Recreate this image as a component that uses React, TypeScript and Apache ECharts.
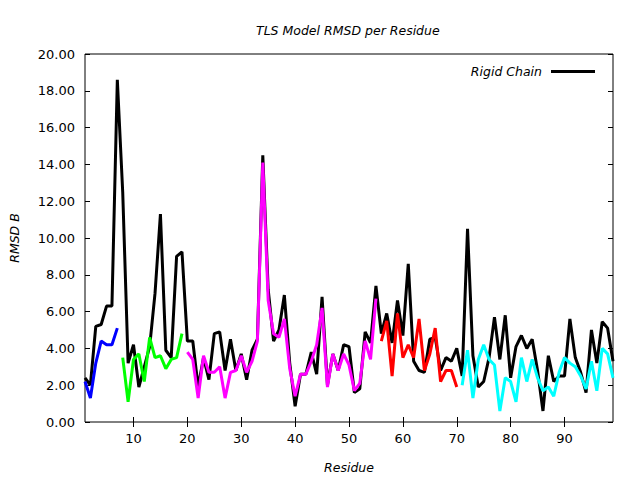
import React, { useEffect, useRef } from "react";
import * as echarts from "echarts";

const titleText = "TLS Model RMSD per Residue";
const xName = "Residue";
const yName = "RMSD B";
const legendName = "Rigid Chain";

const xTicks = [10, 20, 30, 40, 50, 60, 70, 80, 90];
const yMin = 0;
const yMax = 20;
const yStep = 2;

// Rigid chain RMSD, residues 1..99
const rigidStart = 1;
const rigidValues = [
  2.4, 2.0, 5.2, 5.3, 6.3, 6.3, 18.6, 12.5, 3.2, 4.2,
  1.9, 3.0, 4.1, 7.0, 11.3, 3.9, 3.5, 9.0, 9.25, 4.4,
  4.4, 1.9, 3.5, 2.3, 4.8, 4.9, 2.8, 4.5, 2.8, 3.7,
  2.3, 3.9, 4.5, 14.5, 7.2, 4.4, 5.0, 6.9, 3.2, 0.85,
  2.6, 2.6, 3.8, 2.6, 6.8, 2.0, 3.7, 2.8, 4.2, 4.1,
  1.6, 1.8, 4.9, 4.3, 7.4, 4.8, 5.9, 4.3, 6.6, 4.7,
  8.6, 3.3, 2.8, 2.7, 4.5, 4.6, 2.8, 3.5, 3.3, 4.0,
  2.5, 10.5, 3.6, 1.9, 2.2, 3.5, 5.7, 3.4, 5.8, 2.4,
  4.1, 4.7, 4.0, 4.5, 2.8, 0.6, 3.6, 2.2, 2.5, 2.5,
  5.6, 3.5, 2.7, 1.6, 5.0, 3.2, 5.45, 5.1, 3.3,
];

// TLS segments
const blueStart = 1;
const blueValues = [2.2, 1.3, 3.2, 4.4, 4.2, 4.2, 5.1];

const greenStart = 8;
const greenValues = [3.5, 1.1, 3.4, 3.7, 2.2, 4.6, 3.5, 3.6, 2.9, 3.4, 3.5, 4.8];

const magentaStart = 20;
const magentaValues = [
  3.8, 3.4, 1.3, 3.6, 2.7, 2.7, 3.0, 1.3, 2.7, 2.8,
  3.6, 2.7, 3.3, 4.4, 14.1, 6.6, 4.8, 4.6, 5.6, 2.9,
  1.4, 2.6, 2.6, 3.3, 4.2, 6.2, 1.9, 3.7, 2.8, 3.7,
  3.1, 1.7, 2.1, 4.4, 3.4, 6.7,
];

const redStart = 56;
const redValues = [4.4, 5.5, 2.5, 5.9, 3.5, 4.2, 3.5, 5.6, 2.8, 3.7, 5.1, 2.2, 2.8, 2.8, 1.9];

const cyanStart = 71;
const cyanValues = [
  2.0, 3.9, 1.3, 3.4, 4.2, 3.4, 3.1, 0.6, 2.4, 2.2,
  1.1, 3.5, 2.2, 3.4, 2.4, 1.7, 1.9, 1.4, 2.7, 3.5,
  3.2, 3.0, 2.5, 1.8, 3.3, 1.7, 4.0, 3.7, 2.4,
];

const toPairs = (start: number, vals: number[]) => vals.map((v, i) => [start + i, v]);

const FONT = "DejaVu Sans";

export default function App() {
  const ref = useRef<HTMLDivElement>(null);
  useEffect(() => {
    if (!ref.current) return;
    const chart = echarts.init(ref.current, undefined, { renderer: "svg" });
    const seg = (name: string, color: string, start: number, vals: number[], z: number) => ({
      name,
      type: "line",
      data: toPairs(start, vals),
      showSymbol: false,
      symbol: "none",
      lineStyle: { color, width: 3 },
      itemStyle: { color },
      z,
      silent: true,
    });
    const tickStyle = { show: true, inside: true, length: 5, lineStyle: { color: "#000", width: 1 } };
    chart.setOption({
      animation: false,
      backgroundColor: "#fff",
      title: {
        text: titleText,
        left: 251,
        top: 19,
        textStyle: { fontFamily: FONT, fontSize: 12.5, fontStyle: "italic", fontWeight: "normal", color: "#000" },
      },
      legend: {
        data: [legendName],
        right: 40,
        top: 60,
        align: "right",
        icon: "rect",
        itemWidth: 44,
        itemHeight: 3,
        textStyle: { fontFamily: FONT, fontSize: 12.5, fontStyle: "italic", color: "#000", padding: [0, 4, 0, 0] },
      },
      grid: {
        left: 85,
        top: 54,
        width: 528,
        height: 368,
        show: true,
        borderColor: "#000",
        borderWidth: 1,
        backgroundColor: "transparent",
        containLabel: false,
      },
      xAxis: [
        {
          type: "value",
          min: 1,
          max: 99,
          name: xName,
          nameLocation: "middle",
          nameGap: 39,
          nameTextStyle: { fontFamily: FONT, fontSize: 12.5, fontStyle: "italic", color: "#000" },
          axisLine: { show: false },
          axisTick: { ...tickStyle, customValues: xTicks },
          axisLabel: { customValues: xTicks, fontFamily: FONT, fontSize: 13, color: "#000", margin: 10 },
          splitLine: { show: false },
        },
        {
          type: "value",
          position: "top",
          min: 1,
          max: 99,
          axisLine: { show: false },
          axisTick: { ...tickStyle, customValues: xTicks },
          axisLabel: { show: false },
          splitLine: { show: false },
        },
      ],
      yAxis: [
        {
          type: "value",
          min: yMin,
          max: yMax,
          interval: yStep,
          name: yName,
          nameLocation: "middle",
          nameGap: 64,
          nameRotate: 90,
          nameTextStyle: { fontFamily: FONT, fontSize: 12.5, fontStyle: "italic", color: "#000" },
          axisLine: { show: false },
          axisTick: tickStyle,
          axisLabel: {
            fontFamily: FONT,
            fontSize: 13,
            color: "#000",
            margin: 10,
            formatter: (v: number) => v.toFixed(2),
          },
          splitLine: { show: false },
        },
        {
          type: "value",
          position: "right",
          min: yMin,
          max: yMax,
          interval: yStep,
          axisLine: { show: false },
          axisTick: tickStyle,
          axisLabel: { show: false },
          splitLine: { show: false },
        },
      ],
      series: [
        seg(legendName, "#000000", rigidStart, rigidValues, 2),
        seg("seg-blue", "#0000ff", blueStart, blueValues, 3),
        seg("seg-green", "#00ff00", greenStart, greenValues, 3),
        seg("seg-magenta", "#ff00ff", magentaStart, magentaValues, 3),
        seg("seg-red", "#ff0000", redStart, redValues, 3),
        seg("seg-cyan", "#00ffff", cyanStart, cyanValues, 3),
      ],
    });
    return () => chart.dispose();
  }, []);
  return <div ref={ref} style={{ width: 640, height: 480, position: "absolute", left: 0, top: 0 }} />;
}
